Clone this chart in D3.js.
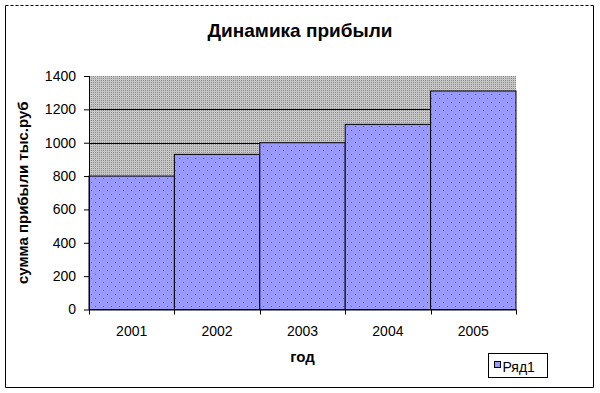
<!DOCTYPE html>
<html>
<head>
<meta charset="utf-8">
<script src="https://cdn.jsdelivr.net/npm/d3@7"></script>
<style>
body { margin: 0; background: #fff; }
text { font-family: Arial, "Liberation Sans", sans-serif; }
</style>
</head>
<body>
<div id="chart-area"></div>
<script>
// Динамика прибыли
var years = ["2001", "2002", "2003", "2004", "2005"];
var profit = [800, 930, 1000, 1110, 1310];
var yTicks = [0, 200, 400, 600, 800, 1000, 1200, 1400];
var seriesName = "Ряд1";

var margin = { left: 89, right: 84, top: 76, bottom: 83.5 };
var width = 600 - margin.left - margin.right,
    height = 393 - margin.top - margin.bottom;

var svg = d3.select("#chart-area").append("svg")
    .attr("width", 600)
    .attr("height", 393);

var defs = svg.append("defs");
// gray dithered background
var pg = defs.append("pattern").attr("id", "grayDots")
    .attr("patternUnits", "userSpaceOnUse")
    .attr("width", 2).attr("height", 2);
pg.append("rect").attr("width", 2).attr("height", 2).attr("fill", "#c6c6c6");
pg.append("rect").attr("width", 1).attr("height", 1).attr("fill", "#8c8c8c");
// bar fill with sparse dots
var pb = defs.append("pattern").attr("id", "barDots")
    .attr("patternUnits", "userSpaceOnUse")
    .attr("width", 8).attr("height", 8);
pb.append("rect").attr("width", 8).attr("height", 8).attr("fill", "#9999ff");
pb.append("rect").attr("x", 2).attr("y", 2).attr("width", 1).attr("height", 1).attr("fill", "#5a5ab4");
pb.append("rect").attr("x", 6).attr("y", 6).attr("width", 1).attr("height", 1).attr("fill", "#5a5ab4");

// chart border
svg.append("line").attr("x1", 5.5).attr("x2", 595.5).attr("y1", 5.5).attr("y2", 5.5)
    .attr("stroke", "#000").attr("stroke-dasharray", "3,2");
svg.append("path").attr("d", "M5.5,5.5V387.5H593.5V5.5")
    .attr("fill", "none").attr("stroke", "#000");

// Title
svg.append("text")
    .attr("x", 300)
    .attr("y", 37)
    .attr("font-size", "19px")
    .attr("font-weight", "bold")
    .attr("text-anchor", "middle")
    .text("Динамика прибыли");

var g = svg.append("g").attr("transform", "translate(" + margin.left + ", " + margin.top + ")");

var x = d3.scaleBand().domain(years).range([0, width]).padding(0);
var y = d3.scaleLinear().domain([0, 1400]).range([height, 0]);

// plot background
g.append("rect")
    .attr("width", width)
    .attr("height", height)
    .attr("fill", "url(#grayDots)");

// gridlines
g.selectAll(".grid").data(yTicks.slice(1, -1)).enter().append("line")
    .attr("class", "grid")
    .attr("x1", 0).attr("x2", width)
    .attr("y1", function(d) { return Math.round(y(d)) + 0.5; })
    .attr("y2", function(d) { return Math.round(y(d)) + 0.5; })
    .attr("stroke", "#000");

// bars
g.selectAll(".bar").data(profit).enter().append("rect")
    .attr("class", "bar")
    .attr("x", function(d, i) { return x(years[i]); })
    .attr("width", x.bandwidth())
    .attr("y", function(d) { return y(d); })
    .attr("height", function(d) { return height - y(d); })
    .attr("fill", "url(#barDots)")
    .attr("stroke", "#000")
    .attr("stroke-width", 1);

// Y axis
var yAxisGroup = g.append("g").attr("class", "y axis")
    .call(d3.axisLeft(y).tickValues(yTicks).tickFormat(d3.format("d")).tickSize(5).tickPadding(8));
yAxisGroup.selectAll("text").attr("font-size", "14px").attr("fill", "#000");
yAxisGroup.select(".domain").attr("d", "M0.5," + height + "V0");

// X axis: ticks at band edges
var xAxisGroup = g.append("g").attr("class", "x axis")
    .attr("transform", "translate(0, " + height + ")");
xAxisGroup.append("line").attr("x1", 0).attr("x2", width)
    .attr("y1", 0.5).attr("y2", 0.5).attr("stroke", "#000");
var edges = years.map(function(d) { return x(d); }).concat([width]);
xAxisGroup.selectAll(".tk").data(edges).enter().append("line")
    .attr("class", "tk")
    .attr("x1", function(d) { return Math.round(d) + 0.5; })
    .attr("x2", function(d) { return Math.round(d) + 0.5; })
    .attr("y1", 0).attr("y2", 5)
    .attr("stroke", "#000");
xAxisGroup.selectAll(".lbl").data(years).enter().append("text")
    .attr("class", "lbl")
    .attr("x", function(d) { return x(d) + x.bandwidth() / 2; })
    .attr("y", 26)
    .attr("font-size", "14px")
    .attr("text-anchor", "middle")
    .text(function(d) { return d; });

// X Label
g.append("text")
    .attr("x", width / 2)
    .attr("y", height + 52)
    .attr("font-size", "15px")
    .attr("font-weight", "bold")
    .attr("text-anchor", "middle")
    .text("год");

// Y Label
g.append("text")
    .attr("x", -(height / 2))
    .attr("y", -61)
    .attr("font-size", "15px")
    .attr("font-weight", "bold")
    .attr("text-anchor", "middle")
    .attr("transform", "rotate(-90)")
    .text("сумма прибыли тыс.руб");

// Legend
var legend = svg.append("g").attr("transform", "translate(488.5, 353.5)");
legend.append("rect").attr("width", 59).attr("height", 24)
    .attr("fill", "#fff").attr("stroke", "#000");
legend.append("rect").attr("x", 6).attr("y", 8).attr("width", 6).attr("height", 6)
    .attr("fill", "#9999ff").attr("stroke", "#000");
legend.append("text").attr("x", 14).attr("y", 18)
    .attr("font-size", "14px")
    .text(seriesName);
</script>
</body>
</html>
